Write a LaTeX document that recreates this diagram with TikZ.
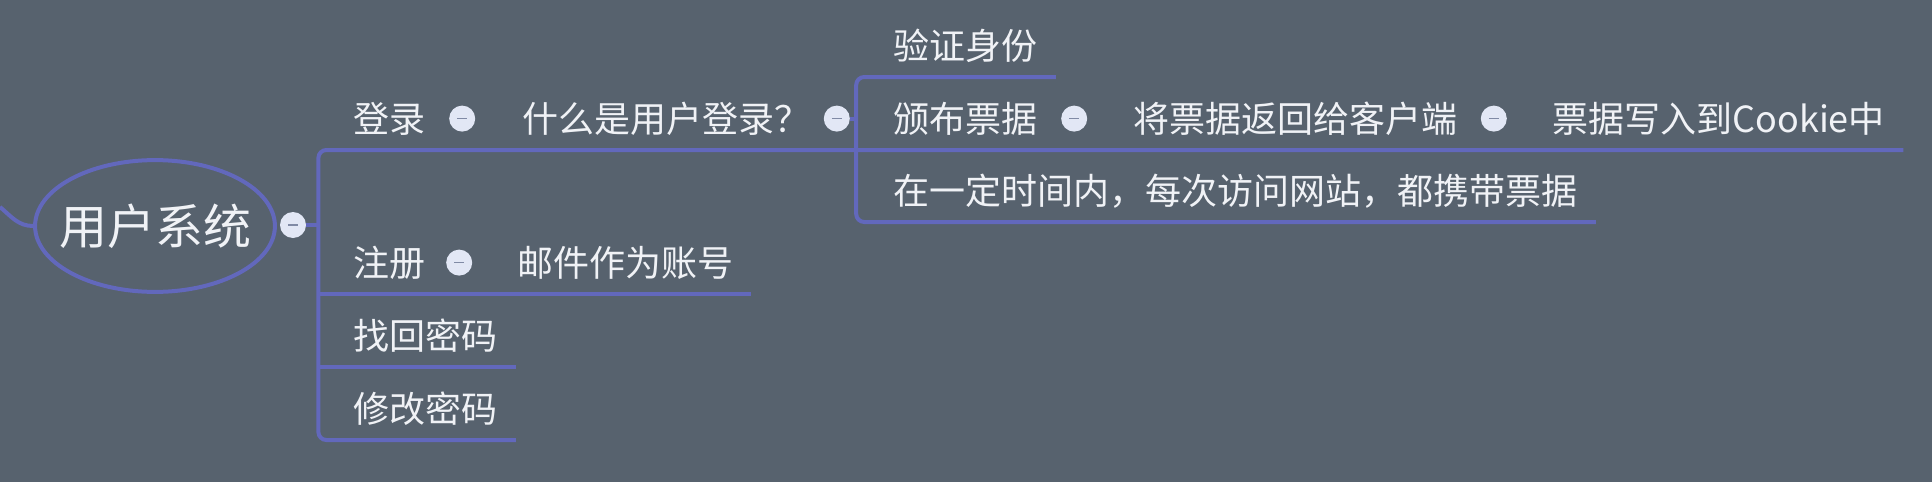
\documentclass[tikz,border=0pt]{standalone}
\usepackage{fontspec}
\setmainfont{Noto Sans CJK SC}
\usepackage{tikz}
\usetikzlibrary{positioning,shapes.geometric}
\definecolor{bgcol}{RGB}{87,98,110}
\definecolor{linecol}{RGB}{98,104,188}
\definecolor{txtcol}{RGB}{240,242,246}
\definecolor{btnfill}{RGB}{226,231,245}
\definecolor{btnmark}{RGB}{128,138,165}
\tikzset{%
	rootnode/.style = {draw=linecol, line width=2pt, ellipse, inner xsep=-5.6pt, inner ysep=11.3pt, text=txtcol, font=\fontsize{24}{28}\selectfont, text height=21.1pt, text depth=2.9pt},
	topic/.style    = {inner xsep=0pt, inner ysep=6.5pt, text=txtcol, font=\fontsize{18}{22}\selectfont, text height=15.8pt, text depth=2.2pt},
	btn/.style      = {circle, fill=btnfill, minimum size=13pt, inner sep=0pt, path picture={\draw[btnmark, line width=0.7pt] ([xshift=-2.5pt]path picture bounding box.center) -- ([xshift=2.5pt]path picture bounding box.center);}},
	branch/.style   = {linecol, line width=2pt, rounded corners=4pt},
}
\begin{document}
\begin{tikzpicture}[x=0.5pt, y=0.5pt]
		\fill[bgcol] (0,0) rectangle (1932,-482);  % background
		\useasboundingbox (0,0) rectangle (1932,-482);
		% root
		\node[rootnode] (root) at (155,-226) {用户系统};
		\node[btn] (rootbtn) at (293,-225) {};
		\coordinate (in) at (0,-207);
		\coordinate (hub) at ([xshift=6pt]rootbtn.east);
		% first level
		\node[topic, anchor=south west] (login) at (353,-150) {登录};
		\node[btn, right=11.5pt of login] (loginbtn) {};
		\node[topic, right=23pt of loginbtn] (what) {什么是用户登录？};
		\node[btn, right=6.5pt of what] (whatbtn) {};
		\coordinate (sub) at ([xshift=3pt]whatbtn.east);
		\node[topic, anchor=south west] (reg) at (353,-294) {注册};
		\node[btn, right=10pt of reg] (regbtn) {};
		\node[topic, right=22pt of regbtn] (mail) {邮件作为账号};
		\node[topic, anchor=south west] (find) at (353,-367) {找回密码};
		\node[topic, anchor=south west] (change) at (353,-440) {修改密码};
		% second level
		\node[topic, anchor=south west] (verify) at (893,-77) {验证身份};
		\node[topic, anchor=south west] (issue) at (893,-150) {颁布票据};
		\node[btn, right=11.5pt of issue] (issuebtn) {};
		\node[topic, right=22.5pt of issuebtn] (back) {将票据返回给客户端};
		\node[btn, right=11.5pt of back] (backbtn) {};
		\node[topic, right=22.5pt of backbtn] (cookie) {票据写入到Cookie中};
		\node[topic, anchor=south west] (carry) at (893,-222) {在一定时间内，每次访问网站，都携带票据};
		% connectors
		\draw[branch] (in) to[out=-40, in=180] (root.west);
		\draw[branch] (rootbtn.east) -- (hub);
		\draw[branch] ([xshift=9pt]cookie.south east) -- (hub |- login.south) -- (hub |- change.south) -- ([xshift=9pt]change.south east);
		\draw[branch] (hub |- reg.south) -- ([xshift=9pt]mail.south east);
		\draw[branch] (hub |- find.south) -- ([xshift=9pt]find.south east);
		\draw[branch] (whatbtn.east) -- (sub);
		\draw[branch] ([xshift=9pt]verify.south east) -- (sub |- verify.south) -- (sub |- carry.south) -- ([xshift=9pt]carry.south east);
\end{tikzpicture}
\end{document}
